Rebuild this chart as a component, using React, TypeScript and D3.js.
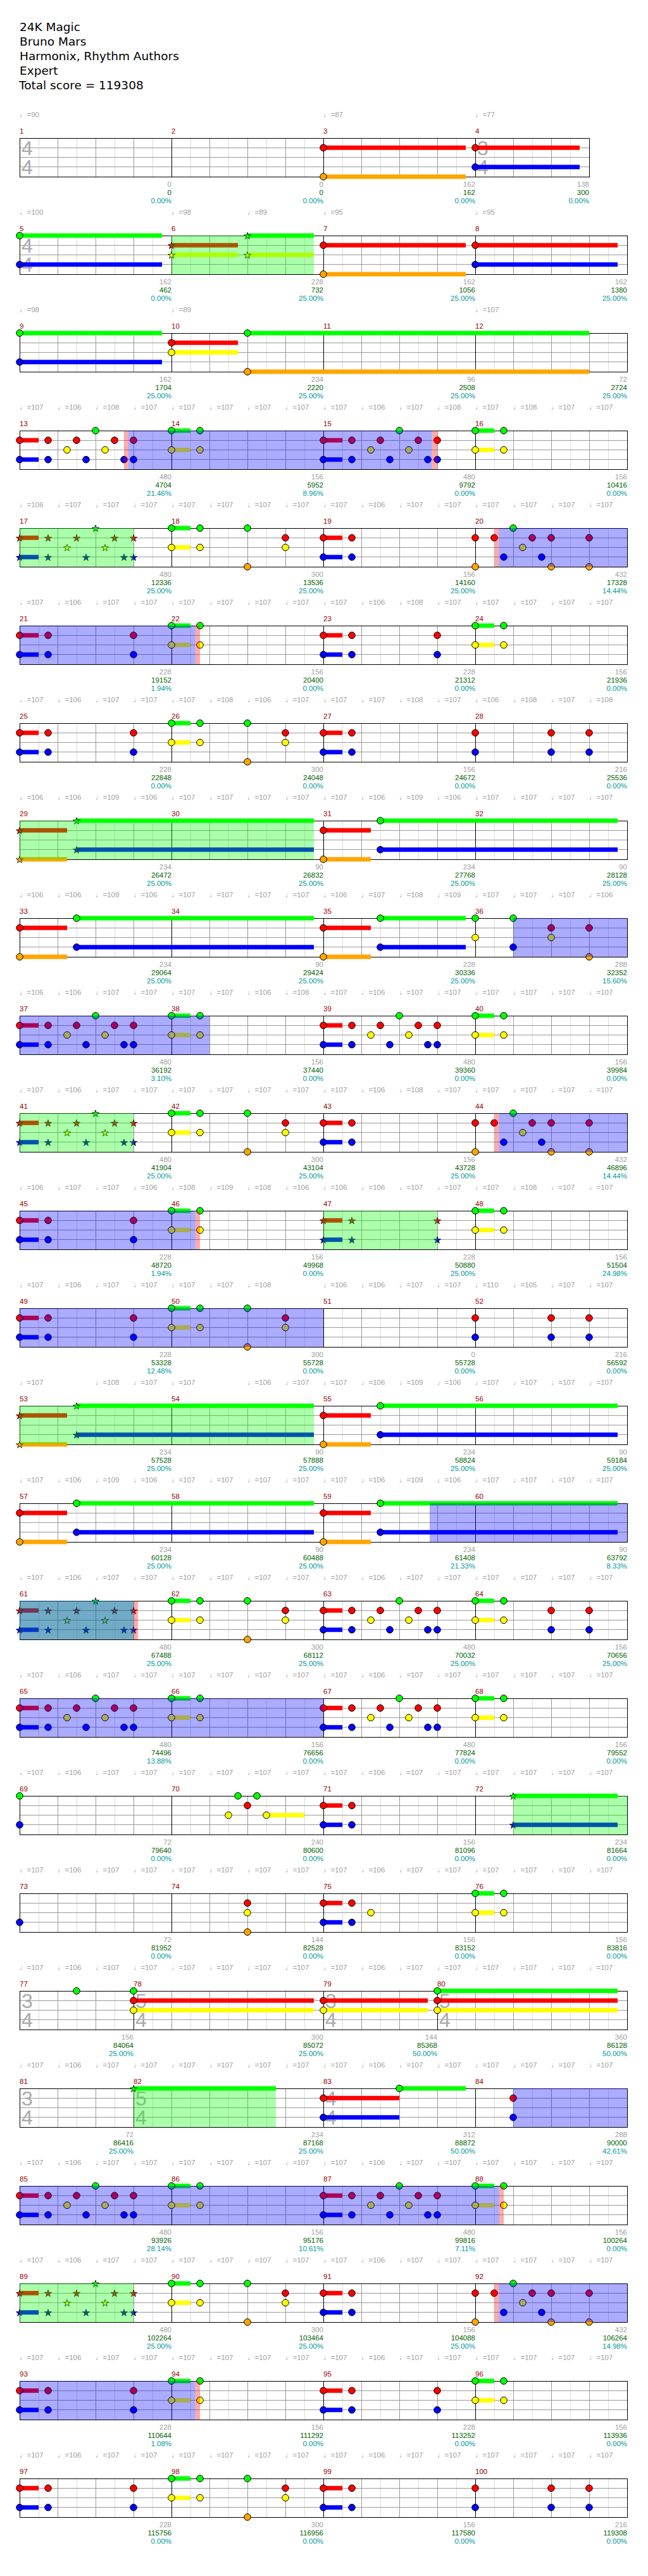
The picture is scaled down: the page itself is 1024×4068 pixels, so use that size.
import * as d3 from "d3";
import React from "react";

const titleLines = ["24K Magic", "Bruno Mars", "Harmonix, Rhythm Authors", "Expert"];
const totalScore = 119308;

// [measure, numerator, denominator]
const timeSigChanges: [number, number, number][] = [
  [1, 4, 4], [4, 3, 4], [5, 4, 4],
  [77, 3, 4], [78, 5, 4], [79, 3, 4], [80, 5, 4],
  [81, 3, 4], [82, 5, 4], [83, 4, 4],
];

// notes per measure: [*]lanes + beat [~sustain beats]
const measureNotes: string[] = [
  "", "", "RO0~3.75", "RB0~2.75",
  "GB0~3.75", "*RY0~1.75 *GY2~1.75", "RO0~3.75", "RB0~3.75",
  "GB0~3.75", "RY0~1.75 GO2~9", "", "",
  "RB0~.5 RB.75 Y1.25 R1.5 B1.75 G2 Y2.25 R2.5 B2.75 RB3", "GY0~.5 GY.75",
  "RB0~.5 RB.75 Y1.25 R1.5 B1.75 G2 Y2.25 R2.5 B2.75 RB3", "GY0~.5 GY.75",
  "*RB0~.5 *RB.75 *Y1.25 *R1.5 *B1.75 *G2 *Y2.25 *R2.5 *B2.75 *RB3", "GY0~.5 GY.75 GO2 RY3",
  "RB0~.5 RB.75", "RO0 R.5 B.75 G1 Y1.25 R1.5 B1.75 RO2 RO3",
  "RB0~.5 RB.75 RB3", "GY0~.5 GY.75", "RB0~.5 RB.75 RB3", "GY0~.5 GY.75",
  "RB0~.5 RB.75 RB3", "GY0~.5 GY.75 GO2 RY3", "RB0~.5 RB.75", "RB0 RB2 RB3",
  "*RO0~1.25 *GB1.5~6.25", "", "RO0~1.25 GB1.5~6.25", "",
  "RO0~1.25 GB1.5~6.25", "", "RO0~1.25 GB1.5~2.25", "GY0 GB1 RY2 RO3",
  "RB0~.5 RB.75 Y1.25 R1.5 B1.75 G2 Y2.25 R2.5 B2.75 RB3", "GY0~.5 GY.75",
  "RB0~.5 RB.75 Y1.25 R1.5 B1.75 G2 Y2.25 R2.5 B2.75 RB3", "GY0~.5 GY.75",
  "*RB0~.5 *RB.75 *Y1.25 *R1.5 *B1.75 *G2 *Y2.25 *R2.5 *B2.75 *RB3", "GY0~.5 GY.75 GO2 RY3",
  "RB0~.5 RB.75", "RO0 R.5 B.75 G1 Y1.25 R1.5 B1.75 RO2 RO3",
  "RB0~.5 RB.75 RB3", "GY0~.5 GY.75", "*RB0~.5 *RB.75 *RB3", "GY0~.5 GY.75",
  "RB0~.5 RB.75 RB3", "GY0~.5 GY.75 GO2 RY3", "", "RB0 RB2 RB3",
  "*RO0~1.25 *GB1.5~6.25", "", "RO0~1.25 GB1.5~6.25", "",
  "RO0~1.25 GB1.5~6.25", "", "RO0~1.25 GB1.5~6.25", "",
  "*RB0~.5 *RB.75 *Y1.25 *R1.5 *B1.75 *G2 *Y2.25 *R2.5 *B2.75 *RB3", "GY0~.5 GY.75 GO2 RY3",
  "RB0~.5 RB.75 Y1.25 R1.5 B1.75 G2 Y2.25 R2.5 B2.75 RB3", "GY0~.5 GY.75 RB2 RB3",
  "RB0~.5 RB.75 Y1.25 R1.5 B1.75 G2 Y2.25 R2.5 B2.75 RB3", "GY0~.5 GY.75",
  "RB0~.5 RB.75 Y1.25 R1.5 B1.75 G2 Y2.25 R2.5 B2.75 RB3", "GY0~.5 GY.75",
  "GB0", "Y1.5 G1.75 R2 G2.25 Y2.5~1", "RB0~.5 RB.75", "*GB1~2.75",
  "B0", "RYO2", "RB0~.5 RB.75 Y1.25", "GY0~.5 GY.75",
  "G1.5", "RY0~4.75 G0", "RY0~2.75", "GRY0~4.75",
  "", "*G0~3.75", "RB0~2 G2~1.75", "RB1",
  "RB0~.5 RB.75 Y1.25 R1.5 B1.75 G2 Y2.25 R2.5 B2.75 RB3", "GY0~.5 GY.75",
  "RB0~.5 RB.75 Y1.25 R1.5 B1.75 G2 Y2.25 R2.5 B2.75 RB3", "GY0~.5 GY.75",
  "*RB0~.5 *RB.75 *Y1.25 *R1.5 *B1.75 *G2 *Y2.25 *R2.5 *B2.75 *RB3", "GY0~.5 GY.75 GO2 RY3",
  "RB0~.5 RB.75", "RO0 R.5 B.75 G1 Y1.25 R1.5 B1.75 RO2 RO3",
  "RB0~.5 RB.75 RB3", "GY0~.5 GY.75", "RB0~.5 RB.75 RB3", "GY0~.5 GY.75",
  "RB0~.5 RB.75 RB3", "GY0~.5 GY.75 GO2 RY3", "RB0~.5 RB.75", "RB0 RB2 RB3",
];

// tempo marks per measure, one per beat ("-" = none)
const measureTempos: string[] = [
  "90", "", "87", "77",
  "100", "98 - 89", "95", "95",
  "98", "89", "", "107",
  "107 106 108 107", "107 107 107 107", "107 106 107 108", "107 108 107 107",
  "106 107 107 107", "107 107 107 107", "107 106 107 107", "107 107 107 107",
  "107 106 107 107", "107 107 107 107", "107 106 108 107", "107 107 107 107",
  "107 106 107 107", "107 108 106 107", "107 107 108 107", "106 108 107 108",
  "106 106 109 106", "107 107 107 107", "107 106 109 106", "107 107 107 107",
  "106 106 109 106", "107 107 107 107", "106 107 108 109", "107 107 107 106",
  "106 106 107 107", "107 107 106 108", "107 106 107 107", "107 107 107 107",
  "107 106 107 107", "107 107 107 107", "107 106 108 107", "107 107 107 107",
  "106 107 107 106", "108 109 108 106", "106 106 107 107", "107 108 107 107",
  "107 106 107 107", "107 107 108 -", "106 106 107 107", "110 105 107 107",
  "107 - 108 107", "107 - 106 107", "107 106 109 106", "107 107 107 107",
  "107 106 109 106", "107 107 107 107", "107 106 109 106", "107 107 107 107",
  "107 106 107 107", "107 107 107 107", "107 106 107 107", "107 107 107 107",
  "107 106 107 107", "107 107 107 107", "107 106 107 107", "107 107 107 107",
  "107 106 107 107", "107 107 107 107", "107 106 107 107", "107 107 107 107",
  "107 106 107 107", "107 107 107 107", "107 106 107 107", "107 107 107 107",
  "107 106 107", "107 107 107 107 107", "107 106 107", "107 107 107 107 107",
  "107 106 107", "107 107 107 107 107", "107 106 107 107", "107 107 107 107",
  "107 106 107 107", "107 107 107 107", "107 106 107 107", "107 107 107 107",
  "107 106 107 107", "107 107 107 107", "107 106 107 107", "107 107 107 107",
  "107 106 107 107", "107 107 107 107", "107 106 107 107", "107 107 107 107",
  "107 106 107 107", "107 107 107 107", "107 106 107 107", "107 107 107 107",
];

const measureScores: number[] = [
  0, 0, 162, 138, 162, 228, 162, 162, 162, 234, 96, 72,
  480, 156, 480, 156, 480, 300, 156, 432, 228, 156, 228, 156,
  228, 300, 156, 216, 234, 90, 234, 90, 234, 90, 228, 288,
  480, 156, 480, 156, 480, 300, 156, 432, 228, 156, 228, 156,
  228, 300, 0, 216, 234, 90, 234, 90,
  234, 90, 234, 90, 480, 300, 480, 156, 480, 156, 480, 156,
  72, 240, 156, 234, 72, 144, 156, 156, 156, 300, 144, 360,
  72, 234, 312, 288, 480, 156, 480, 156, 480, 300, 156, 432,
  228, 156, 228, 156, 228, 300, 156, 216,
];

const runningTotals: number[] = [
  0, 0, 162, 300, 462, 732, 1056, 1380, 1704, 2220, 2508, 2724,
  4704, 5952, 9792, 10416, 12336, 13536, 14160, 17328, 19152, 20400, 21312, 21936,
  22848, 24048, 24672, 25536, 26472, 26832, 27768, 28128, 29064, 29424, 30336, 32352,
  36192, 37440, 39360, 39984, 41904, 43104, 43728, 46896, 48720, 49968, 50880, 51504,
  53328, 55728, 55728, 56592, 57528, 57888, 58824, 59184,
  60128, 60488, 61408, 63792, 67488, 68112, 70032, 70656, 74496, 76656, 77824, 79552,
  79640, 80600, 81096, 81664, 81952, 82528, 83152, 83816, 84064, 85072, 85368, 86128,
  86416, 87168, 88872, 90000, 93926, 95176, 99816, 100264, 102264, 103464, 104088, 106264,
  110644, 111292, 113252, 113936, 115756, 116956, 117580, 119308,
];

const spPercents: string[] = [
  "0.00", "0.00", "0.00", "0.00", "0.00", "25.00", "25.00", "25.00", "25.00", "25.00", "25.00", "25.00",
  "21.46", "8.96", "0.00", "0.00", "25.00", "25.00", "25.00", "14.44", "1.94", "0.00", "0.00", "0.00",
  "0.00", "0.00", "0.00", "0.00", "25.00", "25.00", "25.00", "25.00", "25.00", "25.00", "25.00", "15.60",
  "3.10", "0.00", "0.00", "0.00", "25.00", "25.00", "25.00", "14.44", "1.94", "0.00", "25.00", "24.98",
  "12.48", "0.00", "0.00", "0.00", "25.00", "25.00", "25.00", "25.00",
  "25.00", "25.00", "21.33", "8.33", "25.00", "25.00", "25.00", "25.00", "13.88", "0.00", "0.00", "0.00",
  "0.00", "0.00", "0.00", "0.00", "0.00", "0.00", "0.00", "0.00", "25.00", "25.00", "50.00", "50.00",
  "25.00", "25.00", "50.00", "42.61", "28.14", "10.61", "7.11", "0.00", "25.00", "25.00", "25.00", "14.98",
  "1.08", "0.00", "0.00", "0.00", "0.00", "0.00", "0.00", "0.00",
];

// [startMeasure, startBeat, endMeasure, endBeat]
const starPhrases: number[][] = [
  [6, 0, 6, 3.75], [17, 0, 17, 3], [29, 0, 30, 3.75], [41, 0, 41, 3], [47, 0, 47, 3], [53, 0, 54, 3.75],
  [61, 0, 61, 3], [72, 1, 72, 4], [82, 0, 82, 3.75], [89, 0, 89, 3],
];
const activations: number[][] = [
  [13, 2.86, 15, 2.86], [20, 0.62, 22, 0.63], [36, 1, 38, 1], [44, 0.62, 46, 0.63], [49, 0, 50, 4],
  [59, 2.8, 60, 4], [61, 0, 61, 3], [65, 0, 66, 4], [84, 1, 84, 4], [85, 0, 88, 0.63], [92, 0.62, 94, 0.63],
];
const windows: number[][] = [
  [13, 2.75, 13, 2.86], [15, 2.86, 15, 3], [20, 0.5, 20, 0.62], [22, 0.63, 22, 0.75],
  [44, 0.5, 44, 0.62], [46, 0.63, 46, 0.75], [61, 3, 61, 3.12], [88, 0.63, 88, 0.75],
  [92, 0.5, 92, 0.62], [94, 0.63, 94, 0.75],
];

const LANE_KEYS = "GRYBO";
const LANE_COLORS = ["#00ff00", "#ff0000", "#ffff00", "#0000ff", "#ffa500"];
const X0 = 31;
const BEAT_W = 60;
const ROW_TOP0 = 218;
const ROW_STEP = 154;
const STAFF_H = 61;

function buildMeasures() {
  const out: any[] = [];
  let beats = 4;
  let g = 0;
  let rowX = X0;
  for (let i = 0; i < 100; i++) {
    const m = i + 1;
    const ch = timeSigChanges.find((c) => c[0] === m);
    if (ch) beats = ch[1];
    const row = Math.floor(i / 4);
    if (i % 4 === 0) rowX = X0;
    const top = ROW_TOP0 + row * ROW_STEP;
    const x = d3.scaleLinear().domain([g, g + beats]).range([rowX, rowX + beats * BEAT_W]);
    out.push({ m, beats, sig: ch ? [ch[1], ch[2]] : null, row, top, start: g, end: g + beats, x, x0: rowX, x1: rowX + beats * BEAT_W });
    g += beats;
    rowX += beats * BEAT_W;
  }
  return out;
}

function parseNotes(measures: any[]) {
  const notes: any[] = [];
  measureNotes.forEach((s, i) => {
    s.split(" ").filter(Boolean).forEach((tok) => {
      const mt = tok.match(/^(\*?)([GRYBO]+)([\d.]+)(?:~([\d.]+))?$/);
      if (!mt) return;
      const pos = measures[i].start + parseFloat(mt[3]);
      const sus = mt[4] ? parseFloat(mt[4]) : 0;
      for (const ch of mt[2]) {
        notes.push({ lane: LANE_KEYS.indexOf(ch), pos, sus, star: mt[1] === "*", mi: i });
      }
    });
  });
  return notes;
}

// split a global beat interval into per-measure pieces
function pieces(measures: any[], a: number, b: number) {
  return measures
    .filter((m) => m.end > a && m.start < b)
    .map((m) => ({ m, x0: m.x(Math.max(a, m.start)), x1: m.x(Math.min(b, m.end)) }));
}

export default function App() {
  const measures = buildMeasures();
  const notes = parseNotes(measures);
  const laneY = d3.scaleLinear().domain([0, 4]).range([0, STAFF_H]);
  const star = d3.symbol().type(d3.symbolStar).size(38)();
  const toGlobal = (r: number[]) => [measures[r[0] - 1].start + r[1], measures[r[2] - 1].start + r[3]];

  const overlay = (list: number[][], fill: string, key: string) =>
    list.flatMap((r, k) => {
      const [a, b] = toGlobal(r);
      return pieces(measures, a, b).map((p, j) => (
        <rect key={`${key}${k}-${j}`} x={p.x0} y={p.m.top} width={p.x1 - p.x0} height={STAFF_H} fill={fill} />
      ));
    });

  return (
    <svg width={1024} height={4068} style={{ position: "absolute", left: 0, top: 0, background: "#fff" }}
      fontFamily="'Liberation Sans', Arial, sans-serif">
      <g fontFamily="'DejaVu Sans', sans-serif" fontSize={18.5} fill="#000">
        {titleLines.map((t, i) => (
          <text key={i} x={31} y={49 + i * 23}>{t}</text>
        ))}
        <text x={30} y={49 + 4 * 23}>{`Total score = ${totalScore}`}</text>
      </g>

      {/* grid */}
      {measures.map((m) => {
        const half = d3.range(m.start + 0.5, m.end, 1);
        const full = d3.range(m.start + 1, m.end, 1);
        return (
          <g key={`g${m.m}`} shapeRendering="crispEdges">
            {half.map((b: number) => (
              <line key={`h${b}`} x1={m.x(b)} x2={m.x(b)} y1={m.top} y2={m.top + STAFF_H} stroke="#dddddd" />
            ))}
            {full.map((b: number) => (
              <line key={`f${b}`} x1={m.x(b)} x2={m.x(b)} y1={m.top} y2={m.top + STAFF_H} stroke="#999999" />
            ))}
            {[1, 2, 3].map((l) => (
              <line key={`l${l}`} x1={m.x0} x2={m.x1} y1={m.top + laneY(l)} y2={m.top + laneY(l)} stroke="#999999" />
            ))}
            <rect x={m.x0} y={m.top} width={m.x1 - m.x0} height={STAFF_H} fill="none" stroke="#000" />
            {m.sig && (
              <g fontSize={32} fill="#aaaaaa" textAnchor="middle">
                <text x={m.x0 + 12} y={m.top + 27}>{m.sig[0]}</text>
                <text x={m.x0 + 12} y={m.top + 57}>{m.sig[1]}</text>
              </g>
            )}
          </g>
        );
      })}

      {/* sustains */}
      {notes.filter((n) => n.sus > 0).flatMap((n, i) =>
        pieces(measures, n.pos, n.pos + n.sus).map((p, j) => (
          <rect key={`s${i}-${j}`} x={p.x0} y={p.m.top + laneY(n.lane) - 3.5} width={p.x1 - p.x0} height={7}
            fill={LANE_COLORS[n.lane]} />
        ))
      )}

      {/* notes */}
      {notes.map((n, i) => {
        const m = measures[n.mi];
        const cx = m.x(n.pos);
        const cy = m.top + laneY(n.lane);
        return n.star ? (
          <path key={`n${i}`} d={star as string} transform={`translate(${cx},${cy + 0.8})`} fill={LANE_COLORS[n.lane]}
            stroke="#000" strokeWidth={0.8} />
        ) : (
          <circle key={`n${i}`} cx={cx} cy={cy} r={5.3} fill={LANE_COLORS[n.lane]} stroke="#000" strokeWidth={1} />
        );
      })}

      {/* star power phrases, activations, windows */}
      {overlay(starPhrases, "rgba(0,255,0,0.33)", "sp")}
      {overlay(activations, "rgba(0,0,255,0.33)", "ac")}
      {overlay(windows, "rgba(255,0,0,0.33)", "wi")}

      {/* labels */}
      {measures.map((m, i) => {
        const tempos = (measureTempos[i] || "").split(" ").filter(Boolean);
        return (
          <g key={`t${m.m}`} fontSize={11.5}>
            <text x={m.x0} y={m.top - 7.5} fill="#990000">{m.m}</text>
            {tempos.map((t, b) => t === "-" ? null : (
              <text key={b} x={m.x(m.start + b)} y={m.top - 33} fill="#a0a0a0">{`\u2669=${t}`}</text>
            ))}
            {measureScores[i] !== undefined && (
              <g textAnchor="end">
                <text x={m.x1} y={m.top + STAFF_H + 16} fill="#a0a0a0">{measureScores[i]}</text>
                <text x={m.x1} y={m.top + STAFF_H + 28.5} fill="#006400">{runningTotals[i]}</text>
                <text x={m.x1} y={m.top + STAFF_H + 41.5} fill="#009999">{`${spPercents[i]}%`}</text>
              </g>
            )}
          </g>
        );
      })}
    </svg>
  );
}
